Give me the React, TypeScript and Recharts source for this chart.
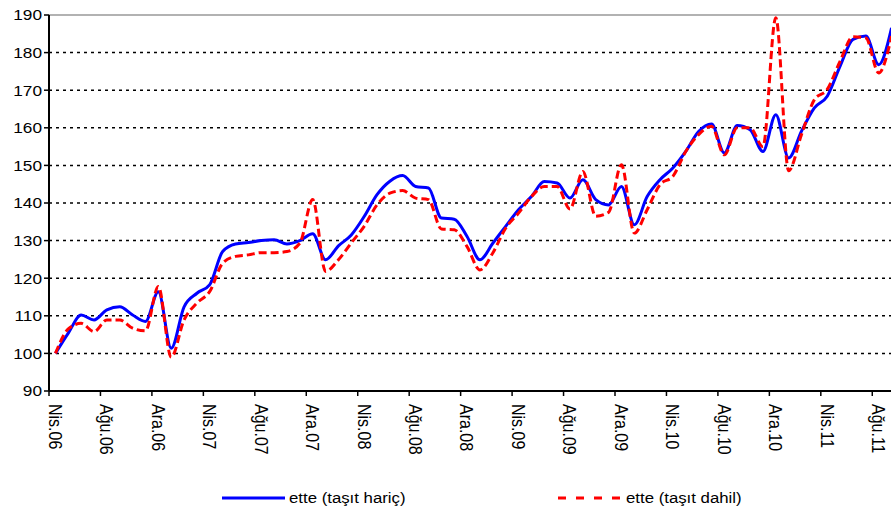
import { LineChart, Line, XAxis, YAxis, ReferenceLine } from 'recharts'

const months = [
  'Nis.06', 'May.06', 'Haz.06', 'Tem.06', 'Ağu.06', 'Eyl.06', 'Eki.06', 'Kas.06', 'Ara.06',
  'Oca.07', 'Şub.07', 'Mar.07', 'Nis.07', 'May.07', 'Haz.07', 'Tem.07', 'Ağu.07', 'Eyl.07', 'Eki.07', 'Kas.07', 'Ara.07',
  'Oca.08', 'Şub.08', 'Mar.08', 'Nis.08', 'May.08', 'Haz.08', 'Tem.08', 'Ağu.08', 'Eyl.08', 'Eki.08', 'Kas.08', 'Ara.08',
  'Oca.09', 'Şub.09', 'Mar.09', 'Nis.09', 'May.09', 'Haz.09', 'Tem.09', 'Ağu.09', 'Eyl.09', 'Eki.09', 'Kas.09', 'Ara.09',
  'Oca.10', 'Şub.10', 'Mar.10', 'Nis.10', 'May.10', 'Haz.10', 'Tem.10', 'Ağu.10', 'Eyl.10', 'Eki.10', 'Kas.10', 'Ara.10',
  'Oca.11', 'Şub.11', 'Mar.11', 'Nis.11', 'May.11', 'Haz.11', 'Tem.11', 'Ağu.11', 'Eyl.11',
]

// ette (taşıt hariç)
const haric = [
  100, 105.4, 110.2, 108.9, 111.6, 112.4, 110.2, 108.5, 116.4,
  101.4, 112.4, 116, 118.3, 127.1, 129.1, 129.5, 130, 130.2, 129.1, 130, 131.8,
  124.9, 128.6, 131.5, 136.4, 142.2, 145.8, 147.3, 144.4, 144, 136, 135.7, 131.1,
  124.9, 129.3, 133.8, 138.2, 141.7, 145.7, 145.3, 141.3, 146.2, 140.9, 139.5, 144.4,
  134.2, 141.7, 146.2, 149.3, 153.7, 159, 161, 153.3, 160.6, 159.5, 153.7, 163.5,
  152, 159.1, 165.3, 168.4, 176.4, 183.5, 184.4, 176.8, 186.6,
]

// ette (taşıt dahil)
const dahil = [
  100, 106.5, 108, 105.8, 108.9, 108.9, 106.7, 106, 117.8,
  99, 108.9, 113.4, 116.5, 124, 125.8, 126.2, 126.8, 126.8, 127.1, 129.3, 140.9,
  121.8, 124.9, 129.4, 133.8, 139.5, 142.6, 143.3, 141.3, 140.9, 133.1, 132.9, 128.4,
  122.2, 126.7, 133.3, 137.3, 141.7, 144.4, 144.4, 138.4, 148.4, 136.5, 137.5, 150.2,
  132, 138.2, 144.9, 147.1, 153.7, 158.2, 160.4, 152.8, 160, 160, 155, 189.3,
  148.6, 158.2, 167.5, 170.2, 177.7, 184.2, 183.9, 174.6, 184.4,
]

const yTicks = [90, 100, 110, 120, 130, 140, 150, 160, 170, 180, 190]
const gridValues = [100, 110, 120, 130, 140, 150, 160, 170, 180]

const data = months.map((m, i) => ({ month: m, haric: haric[i], dahil: dahil[i] }))

const CHART_W = 898
const AXIS_W = 49
const BAND = (CHART_W - AXIS_W) / months.length
const FONT = '"Liberation Sans", Arial, sans-serif'

function MonthTick({ x, y, payload }: any) {
  return (
    <g>
      <line x1={x - BAND / 2} x2={x - BAND / 2} y1={y} y2={y + 5} stroke="#000" strokeWidth={1.5} />
      <text
        transform={`translate(${x},${y + 13}) scale(1.15,1) rotate(90)`}
        textAnchor="start"
        dy="0.36em"
        fontSize={16}
        fontFamily={FONT}
        fill="#000"
      >
        {payload.value}
      </text>
    </g>
  )
}

function ValueTick({ x, y, payload }: any) {
  return (
    <text
      transform={`translate(${x},${y}) scale(1.15,1)`}
      textAnchor="end"
      dy="0.36em"
      fontSize={15}
      fontFamily={FONT}
      fill="#000"
    >
      {payload.value}
    </text>
  )
}

export default function App() {
  return (
    <div style={{ position: 'absolute', left: 0, top: 0, width: 891, height: 511, overflow: 'hidden', background: '#fff' }}>
      <LineChart width={CHART_W} height={511} data={data} margin={{ top: 15, right: 0, bottom: 0, left: 0 }}>
        <XAxis
          dataKey="month"
          interval={3}
          height={120}
          padding={{ left: BAND / 2, right: BAND / 2 }}
          tickLine={false}
          tickSize={0}
          tickMargin={0}
          axisLine={{ stroke: '#000', strokeWidth: 2 }}
          tick={<MonthTick />}
        />
        <YAxis
          domain={[90, 190]}
          ticks={yTicks}
          width={AXIS_W}
          tickSize={5}
          tickMargin={2}
          interval={0}
          tickLine={{ stroke: '#000', strokeWidth: 1.5 }}
          axisLine={{ stroke: '#000', strokeWidth: 2 }}
          tick={<ValueTick />}
        />
        {gridValues.map((v) => (
          <ReferenceLine key={v} y={v} stroke="#000" strokeWidth={1.5} strokeDasharray="3 4" />
        ))}
        <ReferenceLine y={190} stroke="#999" strokeWidth={1.5} />
        <Line type="monotone" dataKey="haric" stroke="#0000ff" strokeWidth={3} dot={false} isAnimationActive={false} />
        <Line type="monotone" dataKey="dahil" stroke="#ff0000" strokeWidth={3} strokeDasharray="8 4" dot={false} isAnimationActive={false} />
      </LineChart>
      <svg width={891} height={30} style={{ position: 'absolute', left: 0, top: 483 }}>
        <line x1={222} x2={285} y1={15} y2={15} stroke="#0000ff" strokeWidth={3} />
        <text transform="translate(289,20) scale(1.12,1)" fontSize={15} fontFamily={FONT} fill="#000">
          ette (taşıt hariç)
        </text>
        <line x1={558} x2={620} y1={15} y2={15} stroke="#ff0000" strokeWidth={3} strokeDasharray="8 10" />
        <text transform="translate(626,20) scale(1.12,1)" fontSize={15} fontFamily={FONT} fill="#000">
          ette (taşıt dahil)
        </text>
      </svg>
    </div>
  )
}
